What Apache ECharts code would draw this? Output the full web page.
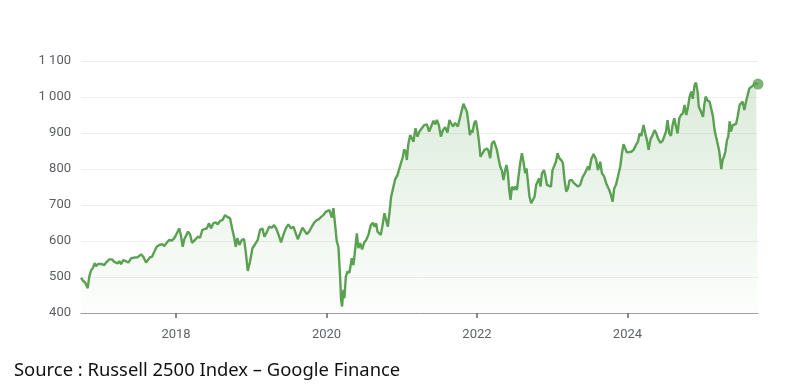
<!DOCTYPE html>
<html>
<head>
<meta charset="utf-8">
<script src="https://cdn.jsdelivr.net/npm/echarts@6/dist/echarts.min.js"></script>
<style>
html,body{margin:0;padding:0;background:#fff;}
#c{width:792px;height:388px;}
</style>
</head>
<body>
<div id="c"></div>
<script>
// Decimal years (time) and Russell 2500 index values
const years = [
2016.737,2016.767,2016.794,2016.826,2016.847,2016.870,2016.892,2016.919,2016.936,2016.963,2016.989,
2017.016,2017.047,2017.069,2017.113,2017.149,2017.180,2017.202,2017.225,2017.246,2017.269,2017.299,2017.335,2017.366,2017.402,2017.445,2017.491,2017.535,2017.565,2017.601,2017.624,2017.654,2017.681,2017.711,2017.743,2017.778,2017.814,2017.844,2017.876,2017.911,2017.943,2017.977,
2018.009,2018.044,2018.066,2018.089,2018.110,2018.133,2018.160,2018.186,2018.213,2018.243,2018.289,2018.319,2018.350,2018.376,2018.408,2018.439,2018.465,2018.496,2018.528,2018.555,2018.585,2018.616,2018.652,2018.682,2018.718,2018.749,2018.775,2018.794,2018.815,2018.842,2018.874,2018.904,2018.927,2018.953,2018.984,
2019.015,2019.051,2019.086,2019.117,2019.148,2019.174,2019.206,2019.237,2019.273,2019.303,2019.330,2019.360,2019.396,2019.427,2019.459,2019.493,2019.529,2019.560,2019.592,2019.618,2019.649,2019.680,2019.706,2019.738,2019.769,2019.805,2019.839,2019.871,2019.902,2019.928,2019.959,2019.991,
2020.017,2020.039,2020.071,2020.092,2020.118,2020.137,2020.158,2020.181,2020.194,2020.207,2020.225,2020.238,2020.257,2020.278,2020.305,2020.336,2020.358,2020.380,2020.403,2020.424,2020.447,2020.473,2020.500,2020.527,2020.557,2020.589,2020.616,2020.637,2020.660,2020.677,2020.699,2020.722,2020.749,2020.770,2020.793,2020.815,2020.836,2020.859,2020.890,2020.912,2020.943,2020.969,2020.992,
2021.015,2021.032,2021.055,2021.068,2021.085,2021.112,2021.134,2021.156,2021.182,2021.209,2021.235,2021.267,2021.298,2021.334,2021.364,2021.391,2021.422,2021.444,2021.467,2021.493,2021.520,2021.547,2021.577,2021.608,2021.634,2021.657,2021.680,2021.710,2021.746,2021.777,2021.799,2021.820,2021.843,2021.866,2021.887,2021.906,2021.923,2021.940,2021.963,2021.985,
2022.007,2022.029,2022.047,2022.073,2022.100,2022.132,2022.153,2022.176,2022.198,2022.225,2022.242,2022.265,2022.286,2022.309,2022.331,2022.352,2022.375,2022.392,2022.411,2022.428,2022.446,2022.464,2022.485,2022.508,2022.531,2022.552,2022.574,2022.597,2022.618,2022.641,2022.658,2022.677,2022.698,2022.721,2022.743,2022.765,2022.787,2022.810,2022.827,2022.844,2022.863,2022.890,2022.907,2022.930,2022.951,2022.983,
2023.004,2023.027,2023.049,2023.071,2023.093,2023.120,2023.142,2023.164,2023.186,2023.209,2023.230,2023.262,2023.283,2023.306,2023.342,2023.372,2023.403,2023.439,2023.475,2023.492,2023.519,2023.549,2023.581,2023.608,2023.638,2023.661,2023.691,2023.718,2023.749,2023.775,2023.802,2023.824,2023.847,2023.874,2023.904,2023.927,2023.948,2023.971,2023.993,
2024.015,2024.051,2024.081,2024.113,2024.140,2024.161,2024.184,2024.214,2024.237,2024.263,2024.281,2024.307,2024.334,2024.360,2024.383,2024.406,2024.436,2024.467,2024.493,2024.512,2024.533,2024.556,2024.578,2024.600,2024.622,2024.645,2024.666,2024.689,2024.711,2024.738,2024.759,2024.782,2024.805,2024.826,2024.848,2024.868,2024.892,2024.911,2024.932,2024.948,2024.968,2024.991,
2025.004,2025.021,2025.039,2025.065,2025.092,2025.114,2025.137,2025.158,2025.177,2025.198,2025.217,2025.234,2025.247,2025.265,2025.283,2025.301,2025.323,2025.340,2025.358,2025.376,2025.398,2025.420,2025.443,2025.464,2025.491,2025.509,2025.531,2025.553,2025.576,2025.597,2025.620,2025.646,2025.677,2025.709,2025.735
];
const values = [
498,489,484,469,501,518,524,538,530,536,531,
536,533,540,549,549,542,545,538,544,536,547,544,540,552,554,555,563,556,540,543,555,556,570,584,589,591,586,595,603,601,608,
621,635,614,584,605,603,626,619,595,601,612,609,631,635,635,649,635,649,652,646,656,658,672,667,663,631,608,584,608,589,603,605,570,517,543,
580,591,603,631,635,612,624,640,637,644,635,619,596,617,635,646,635,640,621,605,621,637,635,619,626,640,652,658,661,667,672,681,
683,686,665,691,688,598,584,501,436,418,464,441,501,515,512,552,533,575,621,580,594,577,595,603,617,644,651,640,649,626,631,617,649,677,675,640,677,723,751,771,783,802,805,
834,854,848,825,867,894,899,876,913,890,904,913,922,924,904,918,934,924,936,922,890,908,916,901,936,927,918,928,918,945,950,981,982,959,927,894,908,901,927,934,
908,871,834,830,853,857,851,830,871,878,882,853,830,807,796,769,797,811,788,742,714,751,742,751,742,779,816,844,820,788,802,765,723,705,714,723,756,760,774,751,788,797,783,756,751,751,
797,802,820,844,830,825,816,769,737,746,769,769,762,765,751,756,777,790,807,797,827,842,827,797,820,788,779,760,746,732,709,746,756,779,807,844,869,867,846,
842,848,853,867,876,899,892,922,899,876,853,883,894,908,899,885,873,878,881,904,936,899,892,922,941,918,899,941,950,955,978,950,973,1001,1015,995,1033,1040,1015,973,964,959,
945,978,1001,990,987,982,945,908,890,885,853,825,800,825,834,848,881,890,932,904,922,927,925,945,978,982,987,964,987,1005,1024,1029,1033,1038,1036
];
const xTickYears = [2018, 2020, 2022, 2024];
const yMin = 400, yMax = 1100, yStep = 100;
const sourceText = 'Source : Russell 2500 Index \u2013 Google Finance';

const seriesData = years.map((y, i) => [y, values[i]]);
const lastPoint = seriesData[seriesData.length - 1];
const lineColor = '#5aa152';

const chart = echarts.init(document.getElementById('c'), null, {renderer: 'canvas'});
chart.setOption({
  animation: false,
  backgroundColor: '#ffffff',
  grid: {left: 81, right: 34, top: 61, bottom: 75, containLabel: false},
  xAxis: {
    type: 'value',
    min: years[0],
    max: years[years.length - 1],
    axisLine: {show: true, lineStyle: {color: '#9e9e9e', width: 1}},
    axisTick: {show: true, customValues: xTickYears, length: 5, lineStyle: {color: '#666', width: 1.5}},
    axisLabel: {show: true, customValues: xTickYears, formatter: v => String(Math.round(v)),
      color: '#5f6368', fontSize: 13, fontFamily: 'Roboto', margin: 15},
    splitLine: {show: false}
  },
  yAxis: {
    type: 'value',
    min: yMin, max: yMax, interval: yStep,
    axisLine: {show: false},
    axisTick: {show: false},
    axisLabel: {color: '#5a5e63', fontSize: 13, fontFamily: 'Roboto', margin: 10,
      formatter: v => String(v).replace(/\B(?=(\d{3})+(?!\d))/g, ' ')},
    splitLine: {show: true, lineStyle: {color: '#eeeeee', width: 1}}
  },
  series: [
    {
      type: 'line',
      data: seriesData,
      showSymbol: false,
      smooth: false,
      lineStyle: {color: lineColor, width: 2.4},
      itemStyle: {color: lineColor},
      areaStyle: {
        color: new echarts.graphic.LinearGradient(0, 0, 0, 1, [
          {offset: 0, color: 'rgba(90,161,82,0.30)'},
          {offset: 1, color: 'rgba(90,161,82,0.02)'}
        ])
      },
      z: 2
    },
    {
      type: 'scatter',
      data: [lastPoint],
      symbolSize: 11,
      itemStyle: {color: lineColor},
      z: 3
    }
  ],
  graphic: [{
    type: 'text',
    left: 14,
    top: 362,
    style: {text: sourceText, font: '18.4px "Noto Sans"', fill: '#111111'}
  }]
});
</script>
</body>
</html>
